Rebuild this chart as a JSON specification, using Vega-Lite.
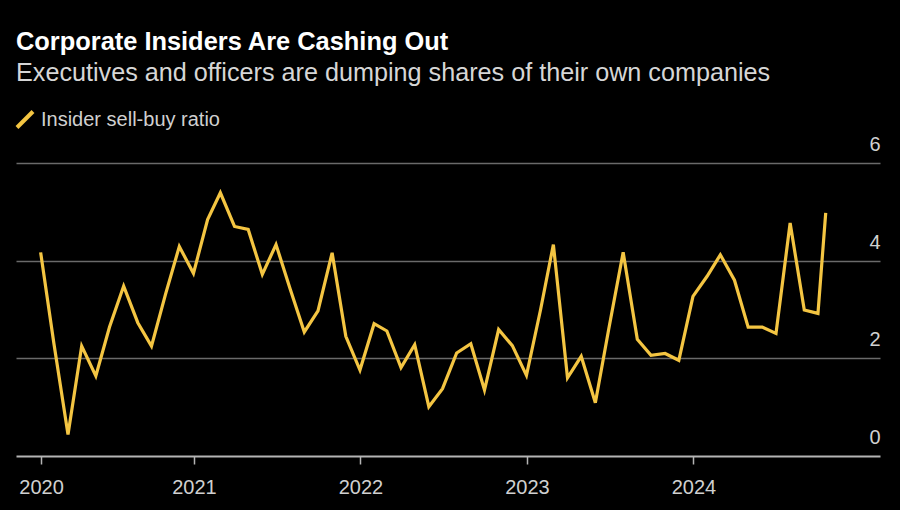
{
  "$schema": "https://vega.github.io/schema/vega-lite/v6.json",
  "autosize": {"type": "none"},
  "width": 864,
  "height": 293,
  "padding": {"left": 16, "top": 163, "right": 20, "bottom": 54},
  "background": "#000000",
  "config": {
    "view": {"stroke": null},
    "font": "Liberation Sans"
  },
  "title": {
    "text": "Corporate Insiders Are Cashing Out",
    "subtitle": "Executives and officers are dumping shares of their own companies",
    "anchor": "start",
    "frame": "group",
    "font": "Liberation Sans",
    "fontSize": 25.4,
    "fontWeight": "bold",
    "color": "#ffffff",
    "subtitleFont": "Liberation Sans",
    "subtitleFontSize": 25.2,
    "subtitleFontWeight": "normal",
    "subtitleColor": "#d6d6d6",
    "subtitlePadding": 6,
    "offset": 23
  },
  "data": {
    "values": [
      {"date": "2020-01-31", "ratio": 4.17},
      {"date": "2020-02-29", "ratio": 2.31},
      {"date": "2020-03-31", "ratio": 0.44},
      {"date": "2020-04-30", "ratio": 2.25},
      {"date": "2020-05-31", "ratio": 1.64},
      {"date": "2020-06-30", "ratio": 2.64},
      {"date": "2020-07-31", "ratio": 3.48},
      {"date": "2020-08-31", "ratio": 2.73},
      {"date": "2020-09-30", "ratio": 2.25},
      {"date": "2020-10-31", "ratio": 3.32},
      {"date": "2020-11-30", "ratio": 4.29},
      {"date": "2020-12-31", "ratio": 3.74},
      {"date": "2021-01-31", "ratio": 4.84},
      {"date": "2021-02-28", "ratio": 5.39},
      {"date": "2021-03-31", "ratio": 4.70},
      {"date": "2021-04-30", "ratio": 4.64},
      {"date": "2021-05-31", "ratio": 3.72},
      {"date": "2021-06-30", "ratio": 4.33},
      {"date": "2021-07-31", "ratio": 3.42},
      {"date": "2021-08-31", "ratio": 2.54},
      {"date": "2021-09-30", "ratio": 2.97},
      {"date": "2021-10-31", "ratio": 4.16},
      {"date": "2021-11-30", "ratio": 2.45},
      {"date": "2021-12-31", "ratio": 1.76},
      {"date": "2022-01-31", "ratio": 2.71},
      {"date": "2022-02-28", "ratio": 2.56},
      {"date": "2022-03-31", "ratio": 1.81},
      {"date": "2022-04-30", "ratio": 2.28},
      {"date": "2022-05-31", "ratio": 1.01},
      {"date": "2022-06-30", "ratio": 1.38},
      {"date": "2022-07-31", "ratio": 2.11},
      {"date": "2022-08-31", "ratio": 2.30},
      {"date": "2022-09-30", "ratio": 1.35},
      {"date": "2022-10-31", "ratio": 2.59},
      {"date": "2022-11-30", "ratio": 2.26},
      {"date": "2022-12-31", "ratio": 1.65},
      {"date": "2023-01-31", "ratio": 3.0},
      {"date": "2023-02-28", "ratio": 4.33},
      {"date": "2023-03-31", "ratio": 1.60},
      {"date": "2023-04-30", "ratio": 2.04},
      {"date": "2023-05-31", "ratio": 1.09},
      {"date": "2023-06-30", "ratio": 2.63},
      {"date": "2023-07-31", "ratio": 4.17},
      {"date": "2023-08-31", "ratio": 2.39},
      {"date": "2023-09-30", "ratio": 2.06},
      {"date": "2023-10-31", "ratio": 2.10},
      {"date": "2023-11-30", "ratio": 1.96},
      {"date": "2023-12-31", "ratio": 3.27},
      {"date": "2024-01-31", "ratio": 3.68},
      {"date": "2024-02-29", "ratio": 4.12},
      {"date": "2024-03-31", "ratio": 3.60},
      {"date": "2024-04-30", "ratio": 2.64},
      {"date": "2024-05-31", "ratio": 2.64},
      {"date": "2024-06-30", "ratio": 2.51},
      {"date": "2024-07-31", "ratio": 4.77},
      {"date": "2024-08-31", "ratio": 2.99},
      {"date": "2024-09-30", "ratio": 2.92},
      {"date": "2024-10-17", "ratio": 4.98}
    ]
  },
  "mark": {"type": "line", "strokeWidth": 3.2, "strokeJoin": "miter", "strokeCap": "butt"},
  "encoding": {
    "x": {
      "field": "date",
      "type": "temporal",
      "scale": {
        "type": "utc",
        "domain": [
          {"year": 2019, "month": 12, "date": 8, "utc": true},
          {"year": 2025, "month": 2, "date": 13, "utc": true}
        ]
      },
      "axis": {
        "title": null,
        "values": [
          {"year": 2020, "month": 2, "date": 1, "utc": true},
          {"year": 2021, "month": 1, "date": 1, "utc": true},
          {"year": 2022, "month": 1, "date": 1, "utc": true},
          {"year": 2023, "month": 1, "date": 1, "utc": true},
          {"year": 2024, "month": 1, "date": 1, "utc": true}
        ],
        "format": "%Y",
        "grid": false,
        "domainColor": "#b4b4b4",
        "domainWidth": 2,
        "tickColor": "#b4b4b4",
        "tickWidth": 1.5,
        "tickSize": 8,
        "labelFont": "Liberation Sans",
        "labelFontSize": 20,
        "labelColor": "#d0d0d0",
        "labelPadding": 13,
        "labelFlush": false,
        "labelOverlap": false
      }
    },
    "y": {
      "field": "ratio",
      "type": "quantitative",
      "scale": {"domain": [0, 6], "nice": false, "zero": true},
      "axis": {
        "title": null,
        "orient": "right",
        "values": [0, 2, 4, 6],
        "domain": false,
        "ticks": false,
        "tickSize": 0,
        "grid": true,
        "gridColor": {"condition": {"test": "datum.value === 0", "value": "transparent"}, "value": "#6a6a6a"},
        "gridWidth": 1.5,
        "labelFont": "Liberation Sans",
        "labelFontSize": 20,
        "labelColor": "#d0d0d0",
        "labelAlign": "right",
        "labelBaseline": "alphabetic",
        "labelPadding": 0,
        "labelOffset": -12.5,
        "labelFlush": false
      }
    },
    "color": {
      "datum": "Insider sell-buy ratio",
      "type": "nominal",
      "scale": {"range": ["#f4c542"]},
      "legend": {
        "title": null,
        "orient": "none",
        "legendX": -1,
        "legendY": -53.5,
        "padding": 0,
        "symbolType": "M-1,1L1,-1",
        "symbolSize": 256,
        "symbolStrokeWidth": 4,
        "labelFont": "Liberation Sans",
        "labelFontSize": 20,
        "labelColor": "#d0d0d0",
        "labelOffset": 6,
        "labelLimit": 0
      }
    }
  }
}
